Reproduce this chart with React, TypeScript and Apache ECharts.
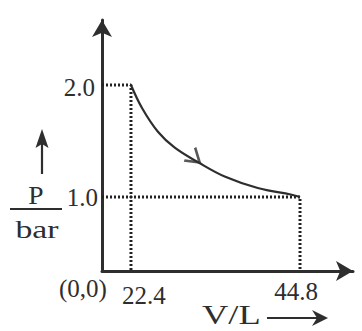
import React, { useEffect, useRef } from "react";
import * as echarts from "echarts";

// Volume (L) and pressure (bar)
const curveV = [22.4, 23.9, 26.0, 28.2, 31.3, 34.9, 39.2, 43.7, 44.8];
const curveP = [2.0, 1.79, 1.58, 1.44, 1.31, 1.18, 1.08, 1.02, 1.0];
// state points
const stateV = [22.4, 44.8];
const stateP = [2.0, 1.0];
// tick labels
const xTicks = [22.4, 44.8];
const yTicks = [1.0, 2.0];
// direction arrow on the curve
const arrowV = [31.5];
const arrowP = [1.31];
// axis ranges (schematic, not to scale from origin)
const xMin = 18.56;
const xMax = 51.82;
const yMin = 0.339;
const yMax = 2.58;

const INK = "#2e2e2e";
const FONT = "Liberation Serif";

export default function App() {
  const ref = useRef<HTMLDivElement>(null);
  useEffect(() => {
    if (!ref.current) return;
    const chart = echarts.init(ref.current, null, { renderer: "svg" });
    const curve = curveV.map((v, i) => [v, curveP[i]]);
    const dotted1 = [
      [xMin, stateP[0]],
      [stateV[0], stateP[0]],
      [stateV[0], yMin],
    ];
    const dotted2 = [
      [xMin, stateP[1]],
      [stateV[1], stateP[1]],
      [stateV[1], yMin],
    ];
    const dotStyle = { color: "#222", width: 3, type: [2, 2] as any };
    chart.setOption({
      animation: false,
      backgroundColor: "#fff",
      grid: { left: 102, right: 9, top: 20, bottom: 60 },
      xAxis: {
        type: "value",
        min: xMin,
        max: xMax,
        splitLine: { show: false },
        axisTick: { show: false },
        axisLine: {
          onZero: false,
          symbol: ["none", "arrow"],
          symbolSize: [15, 17],
          lineStyle: { color: INK, width: 3 },
        },
        axisLabel: {
          customValues: xTicks,
          margin: 8,
          color: INK,
          fontFamily: FONT,
          fontSize: 25,
          formatter: (v: number) =>
            Math.abs(v - xTicks[0]) < 1e-6 ? `{a|${v.toFixed(1)}}` : `{b|${v.toFixed(1)}}`,
          rich: {
            a: { fontFamily: FONT, fontSize: 25, color: INK, padding: [4, 0, 0, 26] },
            b: { fontFamily: FONT, fontSize: 25, color: INK, padding: [0, 8, 0, 0] },
          },
        },
      },
      yAxis: {
        type: "value",
        min: yMin,
        max: yMax,
        splitLine: { show: false },
        axisTick: { show: false },
        axisLine: {
          onZero: false,
          symbol: ["none", "arrow"],
          symbolSize: [15, 17],
          lineStyle: { color: INK, width: 3 },
        },
        axisLabel: {
          customValues: yTicks,
          margin: 4,
          color: INK,
          fontFamily: FONT,
          fontSize: 25,
          formatter: (v: number) =>
            Math.abs(v - yTicks[1]) < 1e-6 ? `{a|${v.toFixed(1)}}` : `{b|${v.toFixed(1)}}`,
          rich: {
            a: { fontFamily: FONT, fontSize: 25, color: INK, padding: [6, 3, 0, 0] },
            b: { fontFamily: FONT, fontSize: 25, color: INK, padding: [1, 0, 0, 0] },
          },
        },
      },
      series: [
        {
          type: "line",
          data: dotted1,
          symbol: "none",
          lineStyle: dotStyle,
          z: 1,
        },
        {
          type: "line",
          data: dotted2,
          symbol: "none",
          lineStyle: dotStyle,
          z: 1,
        },
        {
          type: "line",
          data: curve,
          smooth: 0.4,
          symbol: "none",
          lineStyle: { color: INK, width: 2.2 },
          z: 3,
        },
        {
          type: "scatter",
          data: arrowV.map((v, i) => [v, arrowP[i]]),
          symbol: "path://M0,0L12,7.5L0,15",
          symbolSize: [13, 17],
          symbolRotate: -40,
          symbolOffset: [-5, -4],
          itemStyle: { color: "none", borderColor: INK, borderWidth: 2.5 },
          z: 4,
        },
      ],
      graphic: [
        {
          type: "text",
          x: 59,
          y: 288,
          style: { text: "(0,0)", font: `25px '${FONT}'`, fill: INK, verticalAlign: "middle" },
        },
        // up arrow next to P
        {
          type: "line",
          shape: { x1: 42, y1: 174, x2: 42, y2: 140 },
          style: { stroke: INK, lineWidth: 2.2 },
        },
        {
          type: "polygon",
          shape: { points: [[42, 129], [35.5, 148], [42, 144], [48.5, 148]] },
          style: { fill: INK },
        },
        {
          type: "text",
          x: 36,
          y: 196,
          scaleX: 1.1,
          style: { text: "P", font: `25px '${FONT}'`, fill: INK, align: "center", verticalAlign: "middle" },
        },
        {
          type: "line",
          shape: { x1: 10, y1: 209, x2: 62, y2: 209 },
          style: { stroke: INK, lineWidth: 2 },
        },
        {
          type: "text",
          x: 37,
          y: 229,
          scaleX: 1.3,
          style: { text: "bar", font: `26px '${FONT}'`, fill: INK, align: "center", verticalAlign: "middle" },
        },
        {
          type: "text",
          x: 202,
          y: 315,
          scaleX: 1.35,
          style: { text: "V/L", font: `27px '${FONT}'`, fill: INK, verticalAlign: "middle" },
        },
        {
          type: "line",
          shape: { x1: 267, y1: 318, x2: 322, y2: 318 },
          style: { stroke: INK, lineWidth: 2.2 },
        },
        {
          type: "polygon",
          shape: { points: [[328, 318], [312, 310], [317, 318], [312, 326]] },
          style: { fill: INK },
        },
      ],
    });
    return () => chart.dispose();
  }, []);
  return (
    <div
      ref={ref}
      style={{ position: "fixed", left: 0, top: 0, width: 362, height: 331, background: "#fff" }}
    />
  );
}
